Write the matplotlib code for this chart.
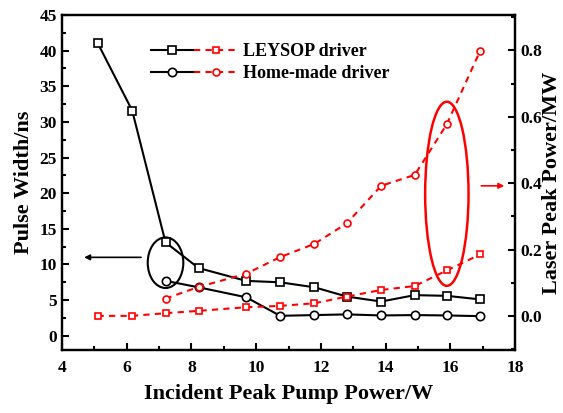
import matplotlib.pyplot as plt
from matplotlib.legend_handler import HandlerTuple
from matplotlib.patches import Ellipse
from matplotlib.ticker import MultipleLocator

plt.rcParams['font.family'] = ['Liberation Serif', 'DejaVu Serif']
plt.rcParams['font.weight'] = 'bold'

# pump power (W)
pump = [5.10, 6.17, 7.20, 8.22, 9.69, 10.74, 11.80, 12.80, 13.86, 14.90, 15.89, 16.92]
pump_home = pump[2:]

# pulse width (ns)
width_leysop = [41.1, 31.6, 13.1, 9.5, 7.7, 7.5, 6.8, 5.5, 4.8, 5.7, 5.6, 5.1]
width_home = [7.7, 6.8, 5.4, 2.8, 2.9, 3.0, 2.85, 2.9, 2.85, 2.75]

# laser peak power (MW)
power_leysop = [0.0, 0.0, 0.008, 0.015, 0.026, 0.030, 0.038, 0.058, 0.078, 0.090, 0.137, 0.185]
power_home = [0.052, 0.087, 0.127, 0.177, 0.217, 0.279, 0.392, 0.425, 0.578, 0.799]

fig = plt.figure(figsize=(5.63, 4.13), dpi=100)
ax = fig.add_axes([0.110, 0.1525, 0.805, 0.8112])
ax2 = ax.twinx()

l1, = ax.plot(pump, width_leysop, color='k', lw=1.5, marker='s', ms=6,
              mfc='white', mec='k', mew=1.2)
l2, = ax.plot(pump_home, width_home, color='k', lw=1.5, marker='o', ms=6,
              mfc='white', mec='k', mew=1.2)
r1, = ax2.plot(pump, power_leysop, color='red', lw=1.5, ls=(0, (3, 2.5)),
               marker='s', ms=5, mfc='white', mec='red', mew=1.2)
r2, = ax2.plot(pump_home, power_home, color='red', lw=1.5, ls=(0, (3, 2.5)),
               marker='o', ms=5, mfc='white', mec='red', mew=1.2)

ax.set_xlim(4, 18)
ax.set_ylim(-2, 45)
ax2.set_ylim(-0.103, 0.907)
ax.xaxis.set_major_locator(MultipleLocator(2))
ax.xaxis.set_minor_locator(MultipleLocator(1))
ax.yaxis.set_major_locator(MultipleLocator(5))
ax.yaxis.set_minor_locator(MultipleLocator(2.5))
ax2.yaxis.set_major_locator(MultipleLocator(0.2))
ax2.yaxis.set_minor_locator(MultipleLocator(0.1))

for a in (ax, ax2):
    for s in a.spines.values():
        s.set_linewidth(1.6)
ax.tick_params(axis='both', which='both', direction='in', labelsize=12.5, width=1.5)
ax.tick_params(which='major', length=5)
ax.tick_params(which='minor', length=3)
ax.tick_params(axis='x', pad=7)
ax2.tick_params(axis='y', which='both', direction='in', labelsize=12.5, width=1.5)
ax2.tick_params(which='major', length=5)
ax2.tick_params(which='minor', length=3)
ax2.yaxis.set_major_formatter(plt.FuncFormatter(lambda v, p: f'{v:.1f}'))

ax.set_xlabel('Incident Peak Pump Power/W', fontsize=16, fontweight='bold', labelpad=6)
ax.set_ylabel('Pulse Width/ns', fontsize=16, fontweight='bold', labelpad=4)
ax2.set_ylabel('Laser Peak Power/MW', fontsize=16, fontweight='bold', labelpad=0)

# annotations
ax.add_patch(Ellipse((7.2, 10.25), 1.1, 7.1, fill=False, ec='k', lw=1.5))
ax.annotate('', xy=(4.6, 11), xytext=(6.53, 11),
            arrowprops=dict(arrowstyle='-|>', color='k', lw=1.2, mutation_scale=8))
ax2.add_patch(Ellipse((15.89, 0.368), 1.34, 0.555, fill=False, ec='red', lw=1.8))
ax2.annotate('', xy=(17.75, 0.392), xytext=(16.87, 0.392),
             arrowprops=dict(arrowstyle='-|>', color='red', lw=1.2, mutation_scale=8))

leg = ax.legend([(l1, r1), (l2, r2)], ['LEYSOP driver', 'Home-made driver'],
                handler_map={tuple: HandlerTuple(ndivide=None, pad=0)},
                loc='upper left', bbox_to_anchor=(0.16, 0.965), frameon=False,
                fontsize=13, handlelength=4.8, handletextpad=0.3, labelspacing=0.3)

fig.savefig('out.png', dpi=100)
